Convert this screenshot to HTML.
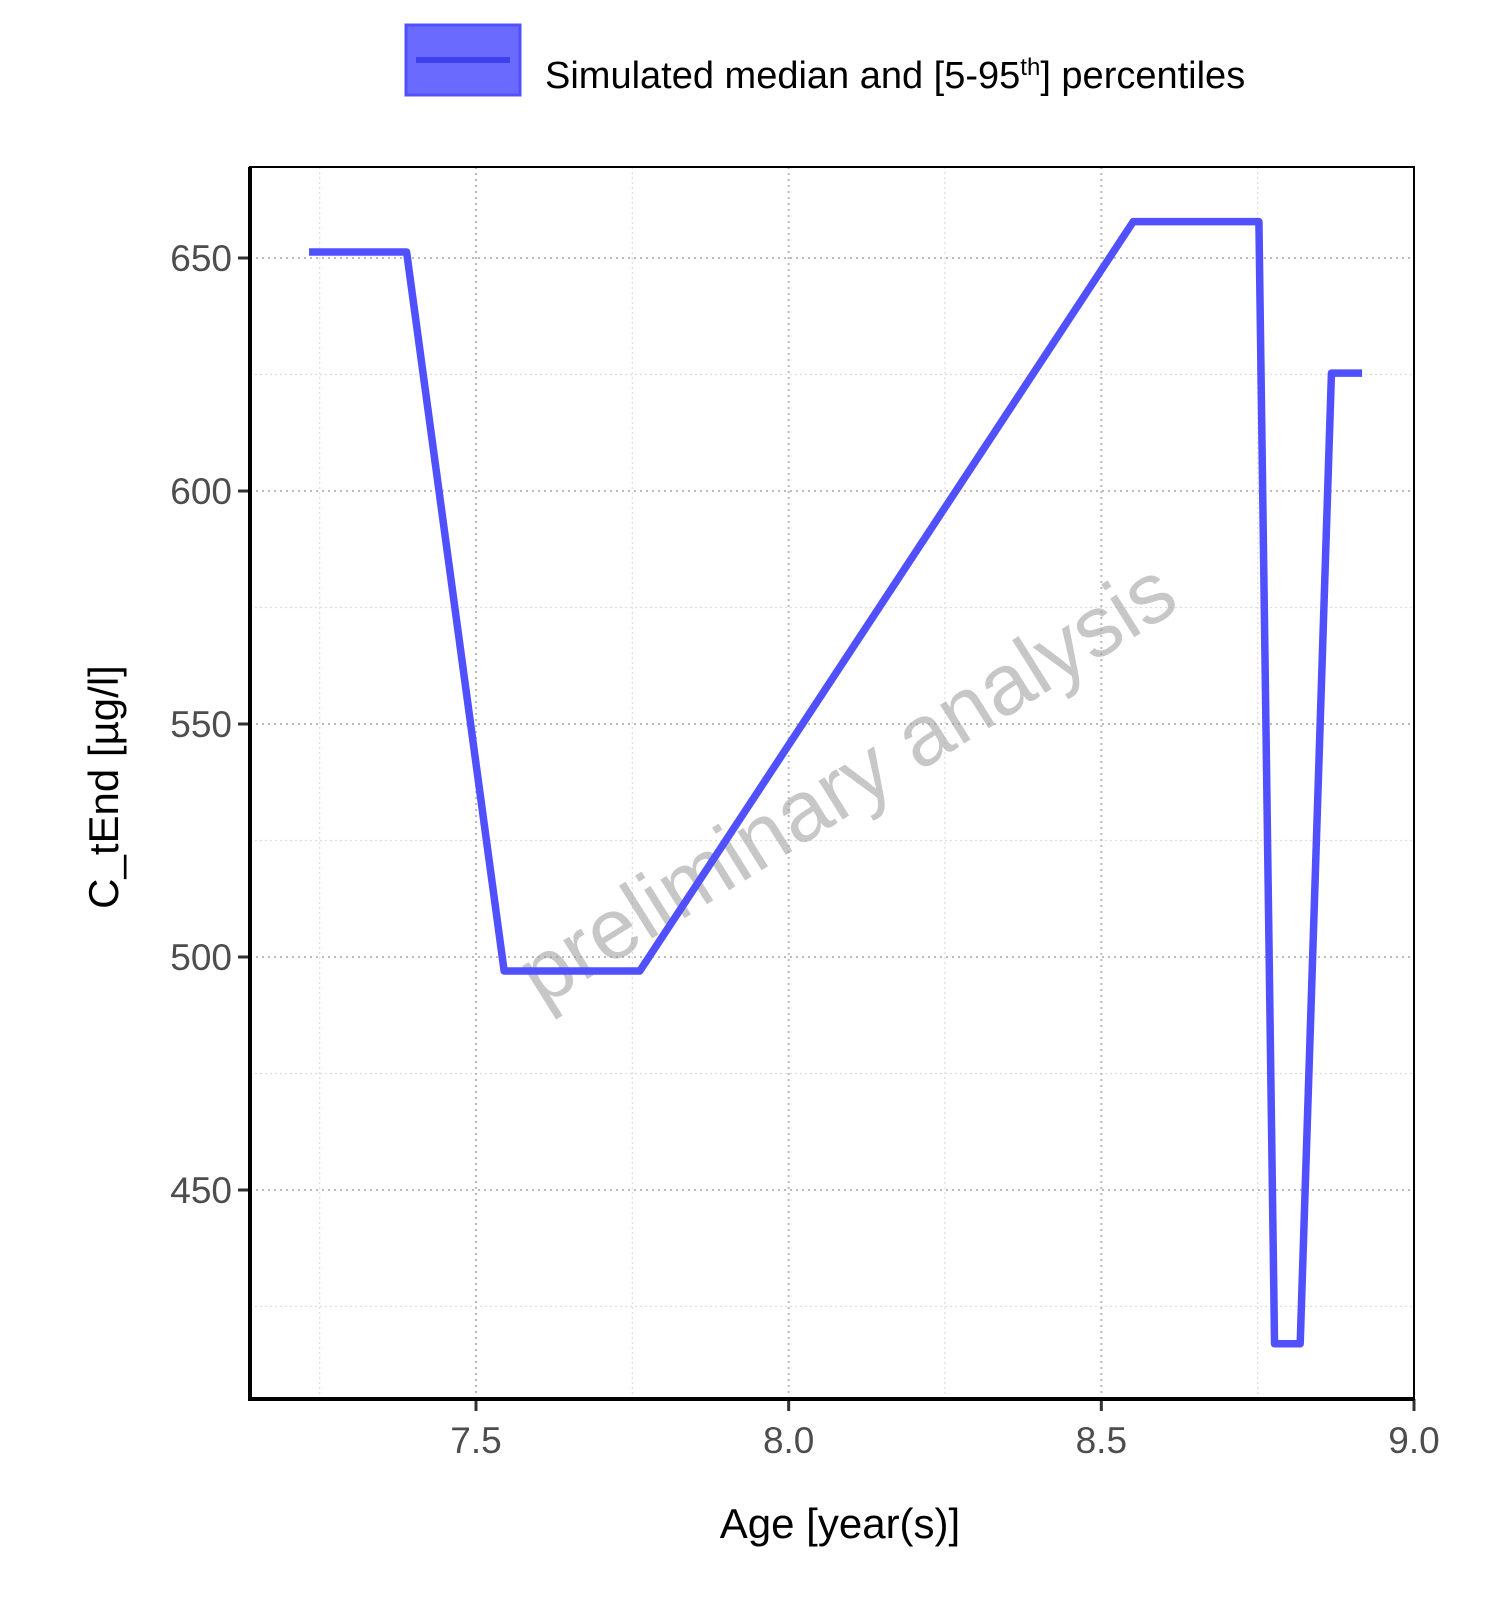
<!DOCTYPE html>
<html><head><meta charset="utf-8"><style>
body{margin:0;background:#fff}
svg{display:block;font-family:"Liberation Sans",sans-serif}
</style></head><body>
<svg id="c" width="1500" height="1624">
<rect x="0" y="0" width="1500" height="1624" fill="#fff"/>
<g>
<rect x="406" y="25" width="114" height="70" fill="#5050ff" fill-opacity="0.85" stroke="#5050ff" stroke-width="3"/>
<line x1="416" y1="60" x2="510" y2="60" stroke="#4040ee" stroke-width="6"/>
<text x="545" y="88" font-size="38" fill="#000">Simulated median and [5-95<tspan font-size="24" dy="-13">th</tspan><tspan dy="13">] percentiles</tspan></text>
</g>
<g id="grid"></g>
<text x="846" y="812" font-size="86" fill="#999" fill-opacity="0.55" transform="rotate(-32 846 782)" text-anchor="middle">preliminary analysis</text>
<g id="plot"></g>
<g id="axes"></g>
<text x="840" y="1538" font-size="42" text-anchor="middle">Age [year(s)]</text>
<text transform="translate(118 787) rotate(-90)" font-size="42" text-anchor="middle">C_tEnd [µg/l]</text>
</svg>
<script>
const xs=[7.233,7.389,7.545,7.762,8.551,8.752,8.777,8.818,8.868,8.917];
const ys=[651.3,651.3,497,497,657.8,657.8,417,417,625.3,625.3];
const xTicks=[7.5,8.0,8.5,9.0];
const xTickLabels=["7.5","8.0","8.5","9.0"];
const yTicks=[450,500,550,600,650];
const yTickLabels=["450","500","550","600","650"];
const xMinor=[7.25,7.75,8.25,8.75];
const yMinor=[425,475,525,575,625];
const L=250,T=167,R=1414,B=1399;
const X=v=>476+(v-7.5)*625.33;
const Y=v=>258+(650-v)*4.66;
const NS="http://www.w3.org/2000/svg";
function mk(t,a,p){const e=document.createElementNS(NS,t);for(const k in a)e.setAttribute(k,a[k]);p.appendChild(e);return e;}
const g=document.getElementById('grid'),ax=document.getElementById('axes'),pl=document.getElementById('plot');
xMinor.forEach(v=>{const e=mk('line',{x1:X(v),x2:X(v),y1:T,y2:B,stroke:'#ddd','stroke-width':1.2,'stroke-dasharray':'2 3'},g);

});
yMinor.forEach(v=>{const e=mk('line',{x1:L,x2:R,y1:Y(v),y2:Y(v),stroke:'#ddd','stroke-width':1.2,'stroke-dasharray':'2 3'},g);

});
xTicks.forEach((v,i)=>{const e=mk('line',{x1:X(v),x2:X(v),y1:T,y2:B,stroke:'#bbb','stroke-width':2,'stroke-dasharray':'2 4'},g);


const t=mk('line',{x1:X(v),x2:X(v),y1:B,y2:B+12,stroke:'#333','stroke-width':3},ax);


const l=mk('text',{x:X(v),y:B+54,'font-size':37,fill:'#4d4d4d','text-anchor':'middle'},ax);l.textContent=xTickLabels[i];

});
yTicks.forEach((v,i)=>{const e=mk('line',{x1:L,x2:R,y1:Y(v),y2:Y(v),stroke:'#bbb','stroke-width':2,'stroke-dasharray':'2 4'},g);


const t=mk('line',{x1:L-12,x2:L,y1:Y(v),y2:Y(v),stroke:'#333','stroke-width':3},ax);


const l=mk('text',{x:L-18,y:Y(v)+13,'font-size':37,fill:'#4d4d4d','text-anchor':'end'},ax);l.textContent=yTickLabels[i];

});
const f=mk('path',{d:`M${L},${T}H${R}V${B}H${L}Z`,fill:'none',stroke:'#000','stroke-width':2},ax);


const a1=mk('path',{d:`M${L},${T}V${B}H${R}`,fill:'none',stroke:'#000','stroke-width':4},ax);


const p=mk('polyline',{points:xs.map((x,i)=>X(x)+','+Y(ys[i])).join(' '),fill:'none',stroke:'#5050ff','stroke-width':7.5,'stroke-linejoin':'round'},pl);


</script>
</body></html>
